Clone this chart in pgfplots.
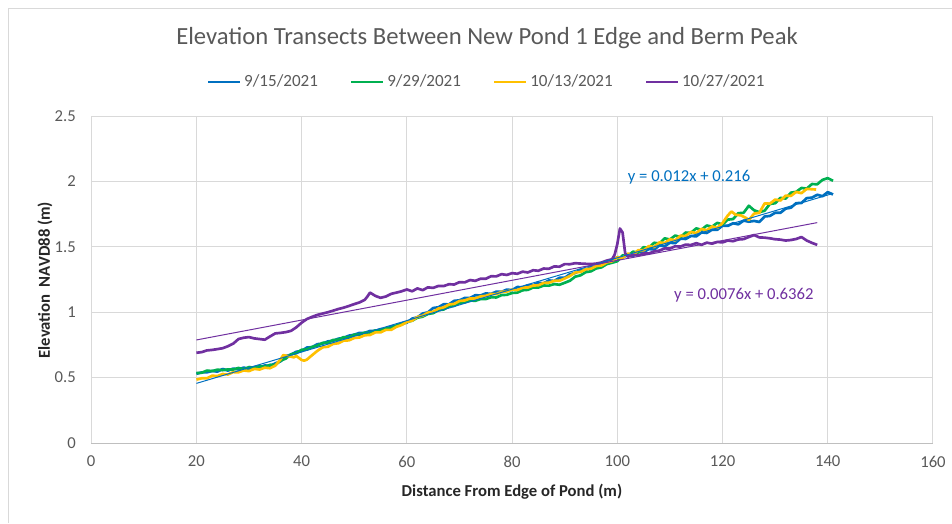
\documentclass[border=0pt]{standalone}
\usepackage{pgfplots}
\pgfplotsset{compat=1.18}
\usepackage{fontspec}
\setmainfont{Carlito}
\definecolor{cblue}{HTML}{0070C0}
\definecolor{cgreen}{HTML}{00B050}
\definecolor{cyellow}{HTML}{FFC000}
\definecolor{cpurple}{HTML}{7030A0}
\definecolor{txtgray}{HTML}{595959}
\definecolor{gridgray}{HTML}{D9D9D9}
\definecolor{axgray}{HTML}{BFBFBF}
\begin{document}
\begin{tikzpicture}
\begin{axis}[
  scale only axis,
  width=631.4pt, height=245.3pt,
  xmin=0, xmax=160, ymin=0, ymax=2.5,
  xtick={0,20,...,160}, ytick={0,0.5,...,2.5},
  yticklabel style={/pgf/number format/fixed},
  /pgf/number format/assume math mode=true,
  tick label style={font=\fontsize{12.5}{14}\selectfont, text=txtgray},
  xticklabel style={yshift=-6pt},
  yticklabel style={xshift=-8pt},
  major tick length=0pt,
  grid=major,
  major grid style={gridgray, line width=0.75pt},
  axis line style={draw=none},
  clip=false,
  legend style={at={(rel axis cs:0.4702,1.104)}, anchor=center, draw=none, fill=none,
    legend columns=4, font=\fontsize{12.8}{14}\selectfont, text=txtgray,
    /tikz/every even column/.append style={column sep=22pt}},
  legend image code/.code={\draw[#1, line width=2pt] (0pt,0pt) -- (24pt,0pt);},
  every axis plot/.append style={line width=2pt, line join=round},
]
\draw[axgray, line width=0.75pt] (axis cs:0,0) -- (axis cs:160,0);

\addplot[cblue] coordinates {
(20,0.530)(21,0.540)(22,0.541)(23,0.551)(24,0.546)(25,0.566)(26,0.554)(27,0.569)(28,0.563)(29,0.577)
(30,0.566)(31,0.581)(32,0.574)(33,0.593)(34,0.590)(35,0.609)(36,0.625)(37,0.665)(38,0.676)(39,0.698)
(40,0.704)(41,0.730)(42,0.733)(43,0.756)(44,0.760)(45,0.777)(46,0.782)(47,0.798)(48,0.804)(49,0.821)
(50,0.828)(51,0.842)(52,0.842)(53,0.857)(54,0.856)(55,0.871)(56,0.870)(57,0.891)(58,0.895)(59,0.914)
(60,0.920)(61,0.951)(62,0.961)(63,0.990)(64,0.999)(65,1.032)(66,1.038)(67,1.061)(68,1.060)(69,1.087)
(70,1.091)(71,1.109)(72,1.109)(73,1.130)(74,1.128)(75,1.144)(76,1.140)(77,1.157)(78,1.156)(79,1.173)
(80,1.169)(81,1.193)(82,1.190)(83,1.206)(84,1.205)(85,1.225)(86,1.221)(87,1.243)(88,1.239)(89,1.263)
(90,1.263)(91,1.291)(92,1.300)(93,1.325)(94,1.324)(95,1.345)(96,1.346)(97,1.373)(98,1.378)(99,1.401)
(100,1.420)(101,1.419)(102,1.438)(103,1.430)(104,1.464)(105,1.460)(106,1.483)(107,1.480)(108,1.510)(109,1.504)
(110,1.531)(111,1.528)(112,1.562)(113,1.560)(114,1.583)(115,1.580)(116,1.610)(117,1.606)(118,1.631)(119,1.630)
(120,1.662)(121,1.660)(122,1.680)(123,1.672)(124,1.700)(125,1.692)(126,1.698)(127,1.690)(128,1.732)(129,1.736)
(130,1.760)(131,1.760)(132,1.792)(133,1.799)(134,1.834)(135,1.835)(136,1.872)(137,1.876)(138,1.898)(139,1.887)
(140,1.918)(141,1.900)
};
\addlegendentry{9/15/2021}

\addplot[cgreen] coordinates {
(20,0.535)(21,0.537)(22,0.554)(23,0.550)(24,0.561)(25,0.557)(26,0.563)(27,0.562)(28,0.574)(29,0.563)
(30,0.581)(31,0.575)(32,0.588)(33,0.582)(34,0.598)(35,0.597)(36,0.630)(37,0.646)(38,0.679)(39,0.687)
(40,0.713)(41,0.715)(42,0.735)(43,0.744)(44,0.766)(45,0.767)(46,0.788)(47,0.790)(48,0.810)(49,0.807)
(50,0.829)(51,0.828)(52,0.844)(53,0.845)(54,0.861)(55,0.860)(56,0.877)(57,0.877)(58,0.898)(59,0.906)
(60,0.926)(61,0.935)(62,0.958)(63,0.966)(64,0.987)(65,0.993)(66,1.015)(67,1.021)(68,1.044)(69,1.049)
(70,1.071)(71,1.076)(72,1.090)(73,1.087)(74,1.101)(75,1.101)(76,1.114)(77,1.113)(78,1.131)(79,1.133)
(80,1.147)(81,1.150)(82,1.168)(83,1.171)(84,1.189)(85,1.189)(86,1.204)(87,1.203)(88,1.215)(89,1.210)
(90,1.225)(91,1.241)(92,1.272)(93,1.282)(94,1.306)(95,1.313)(96,1.335)(97,1.343)(98,1.368)(99,1.378)
(100,1.390)(101,1.435)(102,1.432)(103,1.463)(104,1.456)(105,1.497)(106,1.492)(107,1.531)(108,1.525)(109,1.565)
(110,1.556)(111,1.586)(112,1.574)(113,1.609)(114,1.607)(115,1.641)(116,1.630)(117,1.663)(118,1.654)(119,1.683)
(120,1.671)(121,1.708)(122,1.712)(123,1.757)(124,1.760)(125,1.814)(126,1.779)(127,1.765)(128,1.776)(129,1.828)
(130,1.833)(131,1.874)(132,1.869)(133,1.914)(134,1.920)(135,1.950)(136,1.945)(137,1.980)(138,1.978)(139,2.012)
(140,2.025)(141,2.005)
};
\addlegendentry{9/29/2021}

\addplot[cyellow] coordinates {
(20,0.485)(21,0.495)(22,0.495)(23,0.515)(24,0.512)(25,0.528)(26,0.524)(27,0.542)(28,0.541)(29,0.555)
(30,0.550)(31,0.567)(32,0.562)(33,0.576)(34,0.572)(35,0.592)(36,0.640)(36.5,0.672)(37,0.668)(38,0.660)
(38.5,0.655)(39,0.665)(39.5,0.650)(40,0.635)(40.5,0.630)(41,0.638)(42,0.672)(43,0.705)(44,0.732)(45,0.736)
(46,0.758)(47,0.763)(48,0.783)(49,0.785)(50,0.803)(51,0.807)(52,0.824)(53,0.826)(54,0.846)(55,0.846)
(56,0.865)(57,0.865)(58,0.888)(59,0.902)(60,0.926)(61,0.936)(62,0.964)(63,0.973)(64,0.997)(65,1.003)
(66,1.028)(67,1.037)(68,1.059)(69,1.064)(70,1.086)(71,1.090)(72,1.105)(73,1.105)(74,1.121)(75,1.125)
(76,1.139)(77,1.138)(78,1.156)(79,1.158)(80,1.173)(81,1.170)(82,1.188)(83,1.189)(84,1.204)(85,1.206)
(86,1.224)(87,1.226)(88,1.240)(89,1.240)(90,1.258)(91,1.277)(92,1.304)(93,1.308)(94,1.328)(95,1.333)
(96,1.353)(97,1.357)(98,1.381)(99,1.389)(100,1.420)(101,1.416)(102,1.448)(103,1.439)(104,1.475)(105,1.473)
(106,1.506)(107,1.498)(108,1.534)(109,1.529)(110,1.558)(111,1.549)(112,1.585)(113,1.583)(114,1.614)(115,1.605)
(116,1.637)(117,1.626)(118,1.656)(119,1.645)(120,1.682)(121,1.740)(121.7,1.770)(122.5,1.745)(123.5,1.740)(124.5,1.720)
(125,1.705)(126,1.754)(127,1.760)(128,1.832)(129,1.830)(130,1.861)(131,1.854)(132,1.891)(133,1.889)(134,1.920)
(135,1.910)(136,1.943)(137,1.940)(137.8,1.938)
};
\addlegendentry{10/13/2021}

\addplot[cpurple] coordinates {
(20,0.690)(21,0.695)(22,0.708)(23,0.712)(24,0.718)(25,0.725)(26,0.740)(27,0.760)(28,0.795)(29,0.805)
(30,0.810)(31,0.800)(32,0.795)(33,0.790)(34,0.815)(35,0.838)(36,0.842)(37,0.848)(38,0.858)(39,0.885)
(40,0.920)(41,0.948)(42,0.965)(43,0.980)(44,0.990)(45,1.000)(46,1.012)(47,1.025)(48,1.035)(49,1.048)
(50,1.062)(51,1.075)(52,1.095)(52.5,1.120)(53,1.150)(54,1.125)(55,1.110)(56,1.120)(57,1.140)(58,1.150)
(59,1.160)(60,1.174)(61,1.160)(62,1.182)(63,1.169)(64,1.190)(65,1.186)(66,1.201)(67,1.200)(68,1.214)
(69,1.212)(70,1.230)(71,1.228)(72,1.246)(73,1.240)(74,1.256)(75,1.256)(76,1.275)(77,1.274)(78,1.291)
(79,1.285)(80,1.299)(81,1.294)(82,1.310)(83,1.304)(84,1.321)(85,1.317)(86,1.334)(87,1.332)(88,1.350)
(89,1.348)(90,1.368)(91,1.367)(92,1.375)(93,1.372)(94,1.370)(95,1.368)(96,1.372)(97,1.380)(98,1.395)
(99,1.405)(99.5,1.440)(100,1.520)(100.5,1.640)(101,1.610)(101.5,1.450)(102,1.425)(103,1.438)(104,1.435)(105,1.449)
(106,1.449)(107,1.465)(108,1.471)(109,1.488)(110,1.487)(111,1.504)(112,1.502)(113,1.517)(114,1.514)(115,1.528)
(116,1.515)(117,1.532)(118,1.524)(119,1.537)(120,1.534)(121,1.548)(122,1.543)(123,1.556)(124,1.559)(125,1.575)
(126,1.590)(127,1.572)(128,1.570)(129,1.565)(130,1.558)(131,1.555)(132,1.548)(133,1.552)(134,1.560)(135,1.575)
(136,1.548)(137,1.530)(138,1.515)
};
\addlegendentry{10/27/2021}

% trendlines
\addplot[cblue, line width=0.75pt, forget plot] coordinates {(20,0.456)(141,1.908)};
\addplot[cpurple, line width=0.75pt, forget plot] coordinates {(20,0.788)(138,1.685)};

\node[text=cblue, font=\fontsize{12.5}{14}\selectfont, anchor=west] at (rel axis cs:0.632,0.814) {y = 0.012x + 0.216};
\node[text=cpurple, font=\fontsize{12.5}{14}\selectfont, anchor=west] at (rel axis cs:0.687,0.453) {y = 0.0076x + 0.6362};

\node[text=txtgray, font=\fontsize{18.5}{20}\selectfont] at (rel axis cs:0.4702,1.2385) {Elevation Transects Between New Pond 1 Edge and Berm Peak};
\node[text=black!85, font=\bfseries\fontsize{12.5}{14}\selectfont] at (rel axis cs:0.4999,-0.150) {Distance From Edge of Pond (m)};
\node[text=black!85, font=\bfseries\fontsize{12.5}{14}\selectfont, rotate=90] at (rel axis cs:-0.0549,0.498) {Elevation\ \ NAVD88 (m)};

\draw[gridgray, line width=0.75pt] (rel axis cs:-0.0988,-0.2446) -- (rel axis cs:-0.0988,1.3272) -- (rel axis cs:1.0226,1.3272);

\coordinate (bbA) at (rel axis cs:-0.1083,-0.2446);
\coordinate (bbB) at (rel axis cs:1.0226,1.3547);
\end{axis}
\pgfresetboundingbox
\path (bbA) rectangle (bbB);
\end{tikzpicture}
\end{document}
